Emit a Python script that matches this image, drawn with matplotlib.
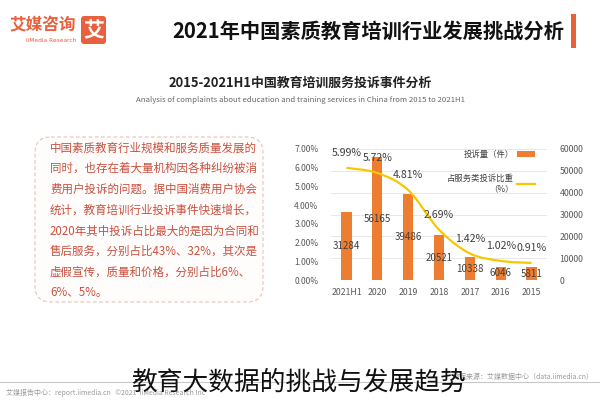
import numpy as np
import matplotlib
matplotlib.use("Agg")
import matplotlib.pyplot as plt
from matplotlib.patches import FancyBboxPatch, Rectangle
from matplotlib.path import Path
from matplotlib.patches import PathPatch

plt.rcParams['font.family'] = ['Noto Sans CJK SC', 'DejaVu Sans']

# ---------------- data ----------------
categories = ['2021H1', '2020', '2019', '2018', '2017', '2016', '2015']
complaints = [31284, 56165, 39486, 20521, 10338, 6046, 5811]
share_pct = [5.99, 5.72, 4.81, 2.69, 1.42, 1.02, 0.91]
count_ticks = [0, 10000, 20000, 30000, 40000, 50000, 60000]
pct_ticks = [0, 1, 2, 3, 4, 5, 6, 7]

title = '2021年中国素质教育培训行业发展挑战分析'
subtitle = '2015-2021H1中国教育培训服务投诉事件分析'
subtitle_en = 'Analysis of complaints about education and training services in China from 2015 to 2021H1'
box_lines = [
    '中国素质教育行业规模和服务质量发展的',
    '同时，也存在着大量机构因各种纠纷被消',
    '费用户投诉的问题。据中国消费用户协会',
    '统计，教育培训行业投诉事件快速增长，',
    '2020年其中投诉占比最大的是因为合同和',
    '售后服务，分别占比43%、32%，其次是',
    '虚假宣传，质量和价格，分别占比6%、',
    '6%、5%。',
]
legend_bar = '投诉量（件）'
legend_line = '占服务类投诉比重\n（%）'
caption = '教育大数据的挑战与发展趋势'
source_note = '数据来源：艾媒数据中心（data.iimedia.cn）'
footer_note = '艾媒报告中心：report.iimedia.cn   ©2021  iiMedia Research Inc'

BAR_C = '#ed7d31'
LINE_C = '#f7c800'
ORANGE = '#e8603c'
BOX_TXT = '#c9503f'

fig = plt.figure(figsize=(6, 4), dpi=100)

# background axes in pixel coordinates
bg = fig.add_axes([0, 0, 1, 1], zorder=0)
bg.set_xlim(0, 600)
bg.set_ylim(400, 0)
bg.axis('off')

# logo
bg.add_patch(FancyBboxPatch((81, 16), 25, 28, boxstyle='round,pad=0,rounding_size=3',
                            fc=ORANGE, ec='none'))
bg.text(93.5, 30.5, '艾', color='white', fontsize=15, fontweight='bold', ha='center', va='center')
bg.text(76, 25, '艾媒咨询', color=ORANGE, fontsize=12, fontweight='bold', ha='right', va='center')
bg.text(76, 40, 'iiMedia Research', color=ORANGE, fontsize=4.2, ha='right', va='center',
        family=['DejaVu Sans'])

# title + bar
bg.add_patch(Rectangle((571, 14), 5, 34, fc=ORANGE, ec='none'))
bg.text(564, 31, title, fontsize=14.6, fontweight='bold', ha='right', va='center', color='#111111')

# subtitle
bg.text(300, 83, subtitle, fontsize=9.3, fontweight='bold', ha='center', va='center', color='#222222')
bg.text(300, 100, subtitle_en, fontsize=5.6, ha='center', va='center', color='#666666')

# text box
bg.add_patch(FancyBboxPatch((35, 137), 228, 165, boxstyle='round,pad=0,rounding_size=16',
                            fc='#fffdfc', ec='#e9c8c0', lw=0.9, ls=(0, (3, 2))))
for i, line in enumerate(box_lines):
    bg.text(50, 148 + i * 20.7, line, fontsize=8.3, color=BOX_TXT, ha='left', va='center',
            fontweight='medium')

# bottom line, notes, caption
bg.plot([0, 600], [382, 382], color='#c8c8c8', lw=0.8)
bg.text(594, 377, source_note, fontsize=5, color='#9a9a9a', ha='right', va='center')
bg.text(6, 393, footer_note, fontsize=5, color='#9a9a9a', ha='left', va='center')
bg.text(299, 383, caption, fontsize=18.5, fontweight='light', color='#111111',
        ha='center', va='center')

# ---------------- chart ----------------
ax = fig.add_axes([331 / 600, 1 - 280 / 400, 216 / 600, 131 / 400], zorder=2)
x = np.arange(len(categories))
bars = ax.bar(x, complaints, width=0.33, color=BAR_C, zorder=2, label=legend_bar)
ax.set_xlim(-0.5, len(categories) - 0.5)
ax.set_ylim(0, 60000)
ax.set_xticks(x)
ax.set_xticklabels(categories)
ax.grid(axis='y', color='#e4e4e4', lw=0.6, zorder=0)
ax.set_axisbelow(True)
for s in ax.spines.values():
    s.set_visible(False)
ax.patch.set_alpha(0)

for xi, v in zip(x, complaints):
    ax.text(xi, v / 2, str(v), ha='center', va='center', fontsize=7, color='#404040', zorder=3)

ax2 = ax.twinx()
ax2.set_ylim(0, 7)
ax2.yaxis.tick_left()
ax2.set_yticks(pct_ticks)
ax2.set_yticklabels([f'{t:.2f}%' for t in pct_ticks])
ax2.tick_params(axis='y', length=0, labelsize=6.1, colors='#595959', pad=9)
for s in ax2.spines.values():
    s.set_visible(False)

# count axis on the right (after twinx, which resets sides)
ax.yaxis.tick_right()
ax.set_yticks(count_ticks)
ax.set_yticklabels([str(t) for t in count_ticks])
ax.tick_params(axis='both', length=0, labelsize=6.3, colors='#595959')
ax.tick_params(axis='y', pad=9)
ax.tick_params(axis='x', pad=6)

# smooth (Catmull-Rom style) curve through the data points
xs = x.astype(float)
ys = np.array(share_pct, dtype=float)
verts = [(xs[0], ys[0])]
codes = [Path.MOVETO]
n = len(xs)
for i in range(n - 1):
    p0 = (xs[max(i - 1, 0)], ys[max(i - 1, 0)])
    p1 = (xs[i], ys[i])
    p2 = (xs[i + 1], ys[i + 1])
    p3 = (xs[min(i + 2, n - 1)], ys[min(i + 2, n - 1)])
    t = 1 / 6
    c1 = (p1[0] + (p2[0] - p0[0]) * t, p1[1] + (p2[1] - p0[1]) * t)
    c2 = (p2[0] - (p3[0] - p1[0]) * t, p2[1] - (p3[1] - p1[1]) * t)
    verts += [c1, c2, p2]
    codes += [Path.CURVE4] * 3
ax2.add_patch(PathPatch(Path(verts, codes), fc='none', ec=LINE_C, lw=1.6, zorder=3))
line_handle, = ax2.plot([], [], color=LINE_C, lw=1.6, label=legend_line)

for xi, v in zip(x, share_pct):
    ax2.annotate(f'{v:.2f}%', (xi, v), xytext=(0, 10.5), textcoords='offset points',
                 ha='center', va='center', fontsize=7.6, color='#404040')

leg = fig.legend(handles=[bars, line_handle], loc='upper right',
                 bbox_to_anchor=(539 / 600, 1 - 146 / 400), frameon=False,
                 markerfirst=False, fontsize=6, handlelength=2.2, handletextpad=0.3,
                 labelspacing=1.8, borderpad=0)
for t in leg.get_texts():
    t.set_multialignment('right')
    t.set_color('#404040')

fig.savefig('out.png', dpi=100)
